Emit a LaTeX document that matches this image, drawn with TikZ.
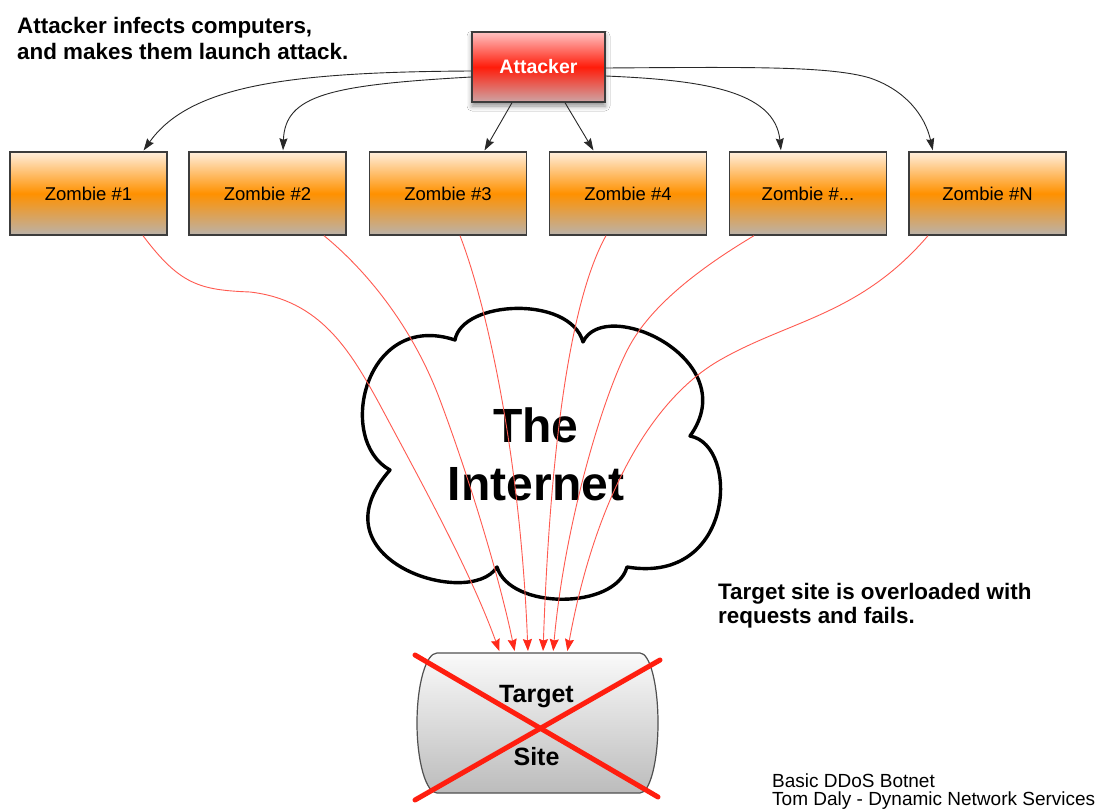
\documentclass[tikz,border=0pt]{standalone}
\usepackage{fontspec}
\setmainfont{Liberation Sans}
\usetikzlibrary{arrows.meta,shadows.blur}
\definecolor{boxborder}{HTML}{3C3C3C}
\definecolor{zomtop}{RGB}{255,238,220}
\definecolor{zommid}{RGB}{255,145,0}
\definecolor{zombot}{RGB}{186,178,170}
\definecolor{atttop}{RGB}{255,195,195}
\definecolor{attmid}{RGB}{255,28,10}
\definecolor{attbot}{RGB}{205,165,165}
\definecolor{tgttop}{RGB}{250,250,250}
\definecolor{tgtbot}{RGB}{188,188,188}
\definecolor{tgtborder}{HTML}{505050}
\definecolor{hitline}{RGB}{255,90,80}
\definecolor{hithead}{RGB}{255,40,25}
\definecolor{crossred}{RGB}{255,30,15}
\definecolor{ctrl}{RGB}{40,40,40}
\begin{document}
\begin{tikzpicture}[x=1pt,y=-1pt,
  zombox/.style={draw=boxborder, line width=1.4pt, minimum width=157pt, minimum height=83pt,
    inner sep=0pt, top color=zomtop, bottom color=zombot, middle color=zommid,
    font=\fontsize{18.5}{20}\selectfont},
  attbox/.style={draw=boxborder, line width=1.4pt, minimum width=133pt, minimum height=70pt,
    inner sep=0pt, top color=atttop, bottom color=attbot, middle color=attmid, text=white,
    font=\bfseries\fontsize{19.5}{22}\selectfont,
    blur shadow={shadow xshift=0pt, shadow yshift=-4pt, shadow blur radius=5pt, shadow opacity=45}},
  ctrlarrow/.style={draw=ctrl, line width=0.9pt, -{Stealth[length=12pt,width=8pt,inset=1.5pt]}, shorten >=1pt},
  hitarrow/.style={draw=hitline, line width=0.9pt, -{Stealth[length=12pt,width=9pt,inset=1.5pt,color=hithead]}, shorten >=2pt},
  note/.style={anchor=base west, inner sep=0pt, font=\bfseries\fontsize{22.4}{25}\selectfont},
  credit/.style={anchor=base west, inner sep=0pt, font=\fontsize{19}{20}\selectfont},
  bigtext/.style={anchor=base, inner sep=0pt, font=\bfseries\fontsize{48}{56}\selectfont},
  tgttext/.style={anchor=base, inner sep=0pt, font=\bfseries\fontsize{25}{28}\selectfont},
  cloudline/.style={draw=black, line width=3.4pt, line join=round},
  xline/.style={draw=crossred, line width=5pt, line cap=round}
]
\fill[white] (0,0) rectangle (1108,811);
\useasboundingbox (0,0) rectangle (1108,811);

% texts
\node[note] (note1) at (17,33) {Attacker infects computers,};
\node[note] (note2) at (17,59) {and makes them launch attack.};
\node[note] (note3) at (718,599) {Target site is overloaded with};
\node[note] (note4) at (718,623) {requests and fails.};
\node[credit] (cred1) at (772,787) {Basic DDoS Botnet};
\node[credit] (cred2) at (772,805) {Tom Daly - Dynamic Network Services};

% cloud
\draw[cloudline] (455,340) .. controls (462,300) and (570,295) .. (583,342)
  .. controls (605,295) and (745,360) .. (690,436)
  .. controls (740,445) and (735,585) .. (627,567)
  .. controls (615,610) and (510,610) .. (497,567)
  .. controls (470,610) and (310,560) .. (390,470)
  .. controls (335,440) and (365,310) .. cycle;
\node[bigtext] (inet1) at (536,442) {The};
\node[bigtext] (inet2) at (536,500) {Internet};

% nodes
\node[attbox] (attacker) at (538.5,67) {Attacker};
\node[zombox] (z1) at (88.5,193.5) {Zombie \#1};
\node[zombox] (z2) at (267.5,193.5) {Zombie \#2};
\node[zombox] (z3) at (448,193.5) {Zombie \#3};
\node[zombox] (z4) at (628,193.5) {Zombie \#4};
\node[zombox] (z5) at (808,193.5) {Zombie \#...};
\node[zombox] (z6) at (987.5,193.5) {Zombie \#N};

% target
\node[inner sep=0pt, outer sep=0pt, minimum width=203pt, minimum height=140pt] (target) at (538.5,723) {};
\draw[draw=tgtborder, line width=1.2pt, top color=tgttop, bottom color=tgtbot]
  (target.north west) -- (target.north east)
  arc[start angle=90, end angle=-90, x radius=18pt, y radius=70pt]
  -- (target.south west)
  arc[start angle=270, end angle=90, x radius=20pt, y radius=70pt] -- cycle;
\node[tgttext] (tgt1) at (536.5,702) {Target};
\node[tgttext] (tgt2) at (536.5,765) {Site};

% control arrows
\draw[ctrlarrow] ([yshift=-4pt]attacker.west) .. controls (290,72) and (190,85) .. ([xshift=54.5pt]z1.north);
\draw[ctrlarrow] ([yshift=-10pt]attacker.west) .. controls (330,85) and (285,95) .. ([xshift=15.5pt]z2.north);
\draw[ctrlarrow] ([xshift=-26.5pt]attacker.south) -- ([xshift=36pt]z3.north);
\draw[ctrlarrow] ([xshift=26.5pt]attacker.south) -- ([xshift=-34pt]z4.north);
\draw[ctrlarrow] ([yshift=-9pt]attacker.east) .. controls (700,80) and (775,90) .. ([xshift=-27pt]z5.north);
\draw[ctrlarrow] ([yshift=-1pt]attacker.east) .. controls (750,67) and (830,66) .. (870,78)
  .. controls (905,90) and (925,115) .. ([xshift=-54.5pt]z6.north);

% attack traffic
\draw[hitarrow] ([xshift=54.5pt]z1.south) .. controls (180,285) and (200,290) .. (250,292)
  .. controls (320,300) and (350,350) .. (380,405)
  .. controls (420,480) and (470,570) .. ([xshift=-38.5pt]target.north);
\draw[hitarrow] ([xshift=56.5pt]z2.south) .. controls (360,265) and (410,320) .. (440,400)
  .. controls (470,480) and (500,580) .. ([xshift=-23.5pt]target.north);
\draw[hitarrow] ([xshift=12pt]z3.south) .. controls (485,300) and (520,450) .. ([xshift=-10.5pt]target.north);
\draw[hitarrow] ([xshift=-22pt]z4.south) .. controls (570,300) and (550,450) .. ([xshift=4.5pt]target.north);
\draw[hitarrow] ([xshift=-54pt]z5.south) .. controls (710,262) and (655,300) .. (630,345)
  .. controls (605,390) and (565,520) .. ([xshift=14.5pt]target.north);
\draw[hitarrow] ([xshift=-59.5pt]z6.south) .. controls (860,315) and (790,320) .. (720,360)
  .. controls (650,400) and (595,500) .. ([xshift=28.5pt]target.north);

% failure cross
\draw[xline] ([shift={(-123.5,-68)}]target.center) -- ([shift={(119.5,74)}]target.center);
\draw[xline] ([shift={(-123.5,77)}]target.center) -- ([shift={(121.5,-63)}]target.center);
\end{tikzpicture}
\end{document}
